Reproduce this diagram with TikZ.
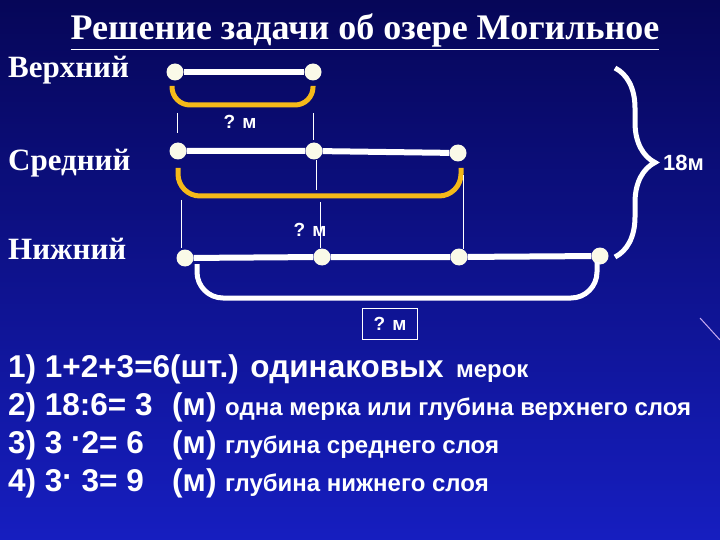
\documentclass[tikz,border=0pt]{standalone}
\usepackage{fontspec}
\setmainfont{Liberation Serif}
\setsansfont{Liberation Sans}
\usetikzlibrary{calc,decorations.pathreplacing}

\definecolor{bgtop}{RGB}{6,6,88}
\definecolor{bgbot}{RGB}{22,30,192}
\definecolor{dotwhite}{RGB}{250,250,232}
\definecolor{ochre}{RGB}{245,185,25}
\definecolor{streak}{RGB}{200,170,240}

\tikzset{
	dot/.style={circle, fill=dotwhite, inner sep=0pt, minimum size=17pt},
	layer/.style={draw=white, line width=6pt},
	measure/.style={draw=ochre, line width=5pt, rounded corners=18pt},
	total/.style={draw=white, line width=5pt, rounded corners=26pt},
	guide/.style={draw=white, line width=0.7pt},
	layername/.style={text=white, font=\fontsize{31}{31}\selectfont\bfseries, anchor=base west, inner sep=0pt},
	ask/.style={text=white, font=\sffamily\bfseries\fontsize{19}{19}\selectfont, inner sep=0pt},
	calcline/.style={text=white, font=\sffamily\bfseries\fontsize{31.5}{31.5}\selectfont, anchor=base west, inner sep=0pt},
	calcnote/.style={text=white, font=\sffamily\bfseries\fontsize{24}{24}\selectfont, anchor=base west, inner sep=0pt}
}

\begin{document}
\begin{tikzpicture}[x=1pt, y=-1pt]
		\shade[top color=bgtop, bottom color=bgbot] (0,0) rectangle (720,540);
		\useasboundingbox (0,0) rectangle (720,540);
		\draw[streak, line width=1pt] (700,318) -- (720,340);

		\node[text=white, font=\fontsize{36}{36}\selectfont\bfseries, anchor=base, inner sep=0pt] (title) at (365,40) {\underline{Решение задачи об озере Могильное}};

		\node[layername] (upper) at (8,78) {Верхний};
		\node[layername] (middle) at (8,171) {Средний};
		\node[layername] (lower) at (8,259) {Нижний};

		% layers
		\node[dot] (t1) at (175,72) {};
		\node[dot] (t2) at (313,72) {};
		\node[dot] (m1) at (178,151) {};
		\node[dot] (m2) at (314,151) {};
		\node[dot] (m3) at (458,153) {};
		\node[dot] (b1) at (185,258) {};
		\node[dot] (b2) at (322,257) {};
		\node[dot] (b3) at (459,257) {};
		\node[dot] (b4) at (600,256) {};

		\draw[layer] (t1) -- (t2);
		\draw[layer] (m1) -- (m2) -- (m3);
		\draw[layer] (b1) -- (b2) -- (b3) -- (b4);

		% measures
		\draw[measure] ($(t1)+(-3,14)$) |- ($(t2)+(0,33)$) -- ($(t2)+(0,14)$);
		\draw[measure, rounded corners=22pt] ($(m1)+(0,17)$) |- ($(m3)+(3,43)$) -- ($(m3)+(3,15)$);
		\draw[total] ($(b1)+(12,6)$) |- ($(b4)+(-3,42)$) -- ($(b4)+(-3,6)$);

		\draw[guide] ($(t1)+(2,41)$) -- ($(t1)+(2,61)$);
		\draw[guide] ($(t2)+(0,41)$) -- ($(t2)+(0,68)$);
		\draw[guide] ($(m2)+(2,9)$) -- ($(m2)+(2,39)$);
		\draw[guide] ($(m1)+(3,49)$) -- ($(m1)+(3,97)$);
		\draw[guide] ($(m2)+(6,51)$) -- ($(m2)+(6,97)$);
		\draw[guide] ($(m3)+(5,22)$) -- ($(m3)+(5,96)$);

		\node[ask] (q1) at (240,122) {? м};
		\node[ask] (q2) at (310,230) {? м};
		\node[ask, draw=white, line width=0.8pt, minimum width=55pt, minimum height=31pt] (q3) at (390,324) {? м};

		% whole depth
		\coordinate (braceTop) at (615,68);
		\coordinate (braceBot) at (615,257);
		\draw[white, line width=5pt, decorate, decoration={brace, amplitude=40pt}] (braceTop) -- (braceBot);
		\node[ask, font=\sffamily\bfseries\fontsize{22}{22}\selectfont, anchor=west] (depth) at (663,163) {18м};

		% solution
		\node[calcline] (s1) at (8,377) {1) 1+2+3=6(шт.) одинаковых};
		\node[calcnote] at ([xshift=12pt]s1.base east) {мерок};
		\node[calcline] (s2) at (8,415) {2) 18:6= 3};
		\node[calcline] at (172,415) {(м)};
		\node[calcnote] at (225,415) {одна мерка или глубина верхнего слоя};
		\node[calcline] (s3) at (8,453) {3) 3 \raisebox{.12em}{·}2= 6};
		\node[calcline] at (172,453) {(м)};
		\node[calcnote] at (225,453) {глубина среднего слоя};
		\node[calcline] (s4) at (8,491) {4) 3\raisebox{.12em}{·} 3= 9};
		\node[calcline] at (172,491) {(м)};
		\node[calcnote] at (225,491) {глубина нижнего слоя};
	\end{tikzpicture}
\end{document}
